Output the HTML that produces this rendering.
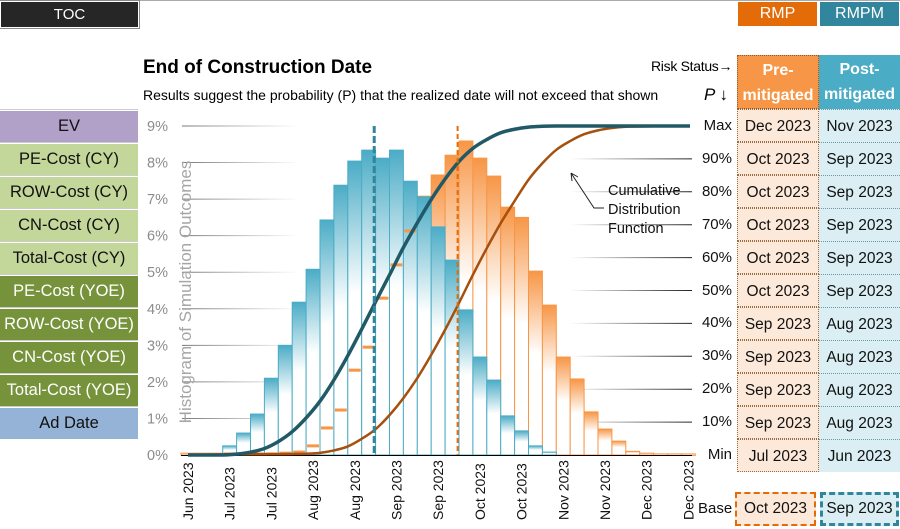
<!DOCTYPE html>
<html><head><meta charset="utf-8">
<style>
body{margin:0;width:900px;height:529px;overflow:hidden;background:#fff;font-family:"Liberation Sans",sans-serif;position:relative}
.a{position:absolute;box-sizing:border-box}
.btn{position:absolute;left:0;width:138px;height:31px;line-height:31px;text-align:center;font-size:16.5px;color:#111;border-top:1px solid #fff;box-shadow:0 -1px 0 #ccc}
.cell{position:absolute;width:81px;height:33px;line-height:33px;text-align:center;font-size:15.5px;color:#111;box-sizing:border-box}
.pl{position:absolute;left:696px;width:36px;text-align:right;font-size:15px;color:#111}
</style></head><body>
<div class="a" style="left:0;top:0;width:900px;height:1px;background:#aaa"></div>
<div class="a" style="left:0;top:1px;width:139px;height:27px;background:#262626;border:1px solid #fff;outline:1px solid #888;color:#fff;text-align:center;line-height:25px;font-size:15px">TOC</div>
<div class="a" style="left:737px;top:1px;width:81px;height:26px;background:#e36c09;border:1px solid #fff;color:#fff;text-align:center;line-height:24px;font-size:16px">RMP</div>
<div class="a" style="left:819px;top:1px;width:81px;height:26px;background:#31859c;border:1px solid #fff;color:#fff;text-align:center;line-height:24px;font-size:16px">RMPM</div>

<div class="a" style="left:143px;top:57px;font-size:19px;font-weight:bold;color:#000">End of Construction Date</div>
<div class="a" style="left:143px;top:87px;font-size:14px;color:#000">Results suggest the probability (P) that the realized date will not exceed that shown</div>
<div class="a" style="left:651px;top:58px;font-size:14px;color:#000;letter-spacing:-0.3px">Risk Status→</div>
<div class="a" style="left:704px;top:85px;font-size:17px;font-style:italic;color:#000">P <span style="font-style:normal">↓</span></div>

<div class="btn" style="top:110px;background:#b1a0c7">EV</div>
<div class="btn" style="top:143px;background:#c4d79b">PE-Cost (CY)</div>
<div class="btn" style="top:176px;background:#c4d79b">ROW-Cost (CY)</div>
<div class="btn" style="top:209px;background:#c4d79b">CN-Cost (CY)</div>
<div class="btn" style="top:242px;background:#c4d79b">Total-Cost (CY)</div>
<div class="btn" style="top:275px;background:#76933c;color:#fff">PE-Cost (YOE)</div>
<div class="btn" style="top:308px;background:#76933c;color:#fff">ROW-Cost (YOE)</div>
<div class="btn" style="top:341px;background:#76933c;color:#fff">CN-Cost (YOE)</div>
<div class="btn" style="top:374px;background:#76933c;color:#fff">Total-Cost (YOE)</div>
<div class="btn" style="top:407px;background:#95b3d7">Ad Date</div>

<div class="a" style="left:737px;top:55px;width:82px;height:54px;background:#f79646;color:#fff;font-weight:bold;font-size:16px;text-align:center;line-height:25px;padding-top:2px;border:1px dotted #8a5a30">Pre-<br>mitigated</div>
<div class="a" style="left:819px;top:55px;width:81px;height:54px;background:#4bacc6;color:#fff;font-weight:bold;font-size:16px;text-align:center;line-height:25px;padding-top:2px">Post-<br>mitigated</div>
<div id="tbl"></div>

<div class="a" style="left:698px;top:500px;font-size:15px;color:#111">Base</div>
<div class="a" style="left:735px;top:492px;width:81px;height:34px;background:#fde9d9;border:2px dashed #e36c09;text-align:center;line-height:30px;font-size:15.5px;color:#111">Oct 2023</div>
<div class="a" style="left:820px;top:492px;width:79px;height:34px;background:#daeef3;border:3px dashed #31859c;text-align:center;line-height:28px;font-size:15.5px;color:#111">Sep 2023</div>

<svg id="chart" class="a" style="left:0;top:0" width="900" height="529">
<defs>
<linearGradient id="gb" x1="0" y1="0" x2="0" y2="1"><stop offset="0" stop-color="#4bacc6"/><stop offset="0.45" stop-color="#fff"/></linearGradient>
<linearGradient id="go" x1="0" y1="0" x2="0" y2="1"><stop offset="0" stop-color="#f79646"/><stop offset="0.45" stop-color="#fff"/></linearGradient>
<linearGradient id="gl" x1="0" y1="0" x2="1" y2="0"><stop offset="0" stop-color="#777"/><stop offset="1" stop-color="#888" stop-opacity="0"/></linearGradient>
<linearGradient id="gr" x1="0" y1="0" x2="1" y2="0"><stop offset="0" stop-color="#222" stop-opacity="0"/><stop offset="1" stop-color="#222"/></linearGradient>
</defs>
</svg>
<script>
const blueVals=[0,0,0,0.25,0.6,1.12,2.1,3.0,4.18,5.08,6.43,7.38,8.04,8.34,8.12,8.34,7.49,7.06,6.24,5.33,3.97,2.68,2.05,1.07,0.66,0.25,0.08,0,0,0,0,0,0,0,0,0,0];
const orangeVals=[0.05,0.05,0.05,0.03,0.03,0.03,0.03,0.05,0.08,0.25,0.74,1.23,2.32,2.95,4.29,5.2,6.13,7.08,7.66,8.2,8.59,8.12,7.63,6.78,6.5,5.03,4.1,2.68,2.08,1.18,0.71,0.38,0.1,0.05,0.03,0.03,0.03];
const xTickLabels=["Jun 2023","Jul 2023","Jul 2023","Aug 2023","Aug 2023","Sep 2023","Sep 2023","Oct 2023","Oct 2023","Nov 2023","Nov 2023","Dec 2023","Dec 2023"];
const yTicks=[0,1,2,3,4,5,6,7,8,9];
const pLevels=[100,90,80,70,60,50,40,30,20,10,0];
const pLabels=["Max","90%","80%","70%","60%","50%","40%","30%","20%","10%","Min"];
const preDates=["Dec 2023","Oct 2023","Oct 2023","Oct 2023","Oct 2023","Oct 2023","Sep 2023","Sep 2023","Sep 2023","Sep 2023","Jul 2023"];
const postDates=["Nov 2023","Sep 2023","Sep 2023","Sep 2023","Sep 2023","Sep 2023","Aug 2023","Aug 2023","Aug 2023","Aug 2023","Jun 2023"];
const baseBlueBin=13.9, baseOrangeBin=19.9;

const X0=181,BW=13.9,Y0=455,Y9=126;
const xs=i=>X0+i*BW;
const ys=v=>Y0-(v/9)*(Y0-Y9);
const yp=p=>Y0-(p/100)*(Y0-Y9);
const svg=document.getElementById('chart');
const NS='http://www.w3.org/2000/svg';
function mk(t,a){const e=document.createElementNS(NS,t);for(const k in a)e.setAttribute(k,a[k]);svg.appendChild(e);return e;}

yTicks.forEach(t=>{
  const l=mk('line',{x1:182,x2:300,y1:ys(t),y2:ys(t)+0.01,stroke:'url(#gl)','stroke-width':1});
  
  
  const tx=mk('text',{x:168,y:ys(t)+5,'text-anchor':'end','font-size':14.5,fill:'#8c8c8c','font-family':'Liberation Sans'});
  tx.textContent=t+'%';
  
  
});
pLevels.forEach((p,i)=>{
  if(p>0&&p<100){const l=mk('line',{x1:570,x2:692,y1:yp(p),y2:yp(p)+0.01,stroke:'url(#gr)','stroke-width':1});
  
  }
});
const yt=mk('text',{x:0,y:0,transform:'translate(191,292) rotate(-90)','text-anchor':'middle','font-size':17,fill:'#a6a6a6','font-family':'Liberation Sans'});
yt.textContent='Histogram of Simulation Outcomes';



orangeVals.forEach((v,i)=>{
  const r=mk('rect',{x:xs(i),y:ys(v),width:BW,height:Math.max(Y0-ys(v),1.5),fill:'url(#go)',stroke:'#f79646','stroke-width':1});
  
  
});
blueVals.forEach((v,i)=>{
  if(v<=0)return;
  const r=mk('rect',{x:xs(i),y:ys(v),width:BW,height:Y0-ys(v),fill:'url(#gb)',stroke:'#4bacc6','stroke-width':1});
  
  
});
orangeVals.forEach((v,i)=>{
  if(v<blueVals[i]){const m=mk('line',{x1:xs(i)+1,x2:xs(i)+BW-1,y1:ys(v),y2:ys(v),stroke:'#f79646','stroke-width':3});
  
  }
});
mk('line',{x1:X0,x2:692,y1:Y0+0.5,y2:Y0+0.5,stroke:'#000','stroke-width':1});

function cdf(vals,color,w,name){
  const tot=vals.reduce((a,b)=>a+b,0);let c=0;const pts=[[xs(0)+BW/2,Y0]];
  vals.forEach((v,i)=>{c+=v;pts.push([xs(i)+BW,yp(c/tot*100)]);});
  pts[pts.length-1][0]=690;
  let d='M'+pts[0][0]+','+pts[0][1];
  for(let i=0;i<pts.length-1;i++){
    const p0=pts[Math.max(i-1,0)],p1=pts[i],p2=pts[i+1],p3=pts[Math.min(i+2,pts.length-1)];
    const c1=[p1[0]+(p2[0]-p0[0])/6,p1[1]+(p2[1]-p0[1])/6];
    const c2=[p2[0]-(p3[0]-p1[0])/6,p2[1]-(p3[1]-p1[1])/6];
    d+=' C'+c1[0]+','+c1[1]+' '+c2[0]+','+c2[1]+' '+p2[0]+','+p2[1];
  }
  const pa=mk('path',{d:d,fill:'none',stroke:color,'stroke-width':w,'stroke-linejoin':'round'});
  
  
}
cdf(orangeVals,'#a5500f',2.5,'cdf-pre-mitigated');
cdf(blueVals,'#215967',3.5,'cdf-post-mitigated');

const bl=mk('line',{x1:xs(baseBlueBin),x2:xs(baseBlueBin),y1:Y9,y2:Y0,stroke:'#31869b','stroke-width':3,'stroke-dasharray':'7,3'});


const ol=mk('line',{x1:xs(baseOrangeBin),x2:xs(baseOrangeBin),y1:Y9,y2:Y0,stroke:'#e46c0a','stroke-width':2,'stroke-dasharray':'5,3'});



xTickLabels.forEach((t,i)=>{
  const x=xs(i*3)+BW/2+5;
  const tx=mk('text',{x:0,y:0,transform:'translate('+x+',520) rotate(-90)','font-size':14,fill:'#111','font-family':'Liberation Sans'});
  tx.textContent=t;
  
  
});

['Cumulative','Distribution','Function'].forEach((t,i)=>{
  const tx=mk('text',{x:608,y:195+i*19,'font-size':14.5,fill:'#111','font-family':'Liberation Sans'});
  tx.textContent=t;
  
  
});
mk('path',{d:'M604,208 L594,208 L571,173 M571,173 l1,8 M571,173 l7,4',fill:'none',stroke:'#222','stroke-width':1});

const tbl=document.getElementById('tbl');
pLabels.forEach((p,i)=>{
  const y=yp(pLevels[i]);
  const l=document.createElement('div');l.className='pl';l.style.top=(y-9)+'px';l.textContent=p;
  
  
  tbl.appendChild(l);
  const top=109+i*33;
  const a=document.createElement('div');a.className='cell';a.style.left='737px';a.style.top=top+'px';a.style.background='#fde9d9';a.style.border='1px dotted #9a6a40';a.style.width='82px';a.textContent=preDates[i];
  
  
  tbl.appendChild(a);
  const b=document.createElement('div');b.className='cell';b.style.left='819px';b.style.top=top+'px';b.style.background='#daeef3';b.style.borderTop='1px dotted #6a9aa8';b.textContent=postDates[i];
  
  
  tbl.appendChild(b);
});
</script>
</body></html>
